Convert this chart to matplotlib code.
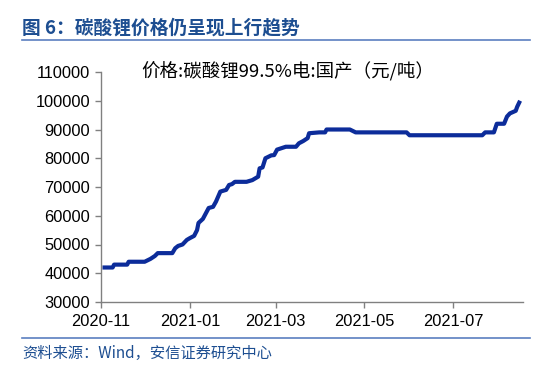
import pandas as pd
import matplotlib
matplotlib.use("Agg")
import matplotlib.pyplot as plt
import matplotlib.dates as mdates
from matplotlib.lines import Line2D

plt.rcParams["font.family"] = ["Liberation Sans", "Noto Sans CJK SC", "DejaVu Sans"]

# -------------- DATA --------------
dates = [
    "2020-11-02", "2020-11-09", "2020-11-10", "2020-11-19", "2020-11-20",
    "2020-12-01", "2020-12-03", "2020-12-05", "2020-12-08", "2020-12-10",
    "2020-12-20", "2020-12-22", "2020-12-24", "2020-12-27", "2020-12-30",
    "2021-01-01", "2021-01-04", "2021-01-06", "2021-01-07", "2021-01-10",
    "2021-01-14", "2021-01-17", "2021-01-19", "2021-01-22", "2021-01-26",
    "2021-01-28", "2021-01-30", "2021-02-01", "2021-02-09", "2021-02-13",
    "2021-02-17", "2021-02-18", "2021-02-20", "2021-02-22", "2021-02-26",
    "2021-02-28", "2021-03-02", "2021-03-05", "2021-03-08", "2021-03-15",
    "2021-03-17", "2021-03-20", "2021-03-23", "2021-03-24", "2021-03-31",
    "2021-04-04", "2021-04-05", "2021-04-21", "2021-04-25", "2021-05-30",
    "2021-06-01", "2021-07-21", "2021-07-23", "2021-07-29", "2021-07-31",
    "2021-08-05", "2021-08-07", "2021-08-09", "2021-08-13", "2021-08-14",
    "2021-08-16",
]
prices = [
    42000, 42000, 43000, 43000, 44000,
    44000, 44500, 45000, 46000, 47000,
    47000, 48700, 49500, 50000, 51600,
    52200, 53000, 55000, 57500, 58900,
    62700, 63100, 64900, 68400, 69000,
    70700, 71000, 71800, 71800, 72400,
    73600, 76500, 76800, 80000, 81000,
    81100, 83000, 83500, 84000, 84000,
    85200, 86000, 87000, 88700, 89000,
    89000, 90000, 90000, 89000, 89000,
    88000, 88000, 89000, 89000, 92000,
    92000, 94500, 95600, 96500, 97900,
    100000,
]
tick_dates = ["2020-11-01", "2021-01-01", "2021-03-01", "2021-05-01", "2021-07-01"]
x_end = "2021-08-18"
y_ticks = list(range(30000, 110001, 10000))

title = "图 6：碳酸锂价格仍呈现上行趋势"
chart_title = "价格:碳酸锂99.5%电:国产（元/吨）"
source = "资料来源：Wind，安信证券研究中心"

line_color = "#0c2c9a"
blue = "#1d4e91"
rule_color = "#5b7fc0"
axis_gray = "#808080"

# ── Figure ──────────────────────────────────────────────────
fig = plt.figure(figsize=(5.5, 3.73), dpi=100)
ax = fig.add_axes([101 / 550, 1 - 302 / 373, 422 / 550, 230 / 373])

x = pd.to_datetime(dates)
ax.plot(x, prices, color=line_color, linewidth=3.0, solid_joinstyle="round",
        solid_capstyle="butt", clip_on=False)

ax.set_xlim(pd.Timestamp(tick_dates[0]), pd.Timestamp(x_end))
ax.set_ylim(30000, 110000)
ax.set_yticks(y_ticks)
ax.set_xticks(pd.to_datetime(tick_dates))
ax.xaxis.set_major_formatter(mdates.DateFormatter("%Y-%m"))

for s in ["top", "right"]:
    ax.spines[s].set_visible(False)
for s in ["left", "bottom"]:
    ax.spines[s].set_color(axis_gray)
    ax.spines[s].set_linewidth(1.0)
ax.tick_params(axis="both", direction="out", length=4, width=1.0,
               color=axis_gray, labelsize=11.8, labelcolor="black")
ax.tick_params(axis="y", pad=4)
ax.tick_params(axis="x", pad=5)

# chart caption sits a bit left of the axes centre
ax.text(0.443, 1.0, chart_title, transform=ax.transAxes, ha="center", va="center",
        fontsize=13.3, family=["Noto Sans CJK SC", "DejaVu Sans"])

# ── Header / footer ─────────────────────────────────────────
fig.text(22 / 550, 1 - 28 / 373, title, ha="left", va="center", fontsize=13.5,
         fontweight="bold", color=blue, family=["Noto Sans CJK SC", "DejaVu Sans"])
fig.add_artist(Line2D([22 / 550, 530 / 550], [1 - 40 / 373] * 2,
                      color=rule_color, linewidth=1.2))
fig.add_artist(Line2D([22 / 550, 530 / 550], [1 - 338 / 373] * 2,
                      color=rule_color, linewidth=1.2))
fig.text(22 / 550, 1 - 353 / 373, source, ha="left", va="center", fontsize=11,
         color=blue, family=["Noto Sans CJK SC", "DejaVu Sans"])

fig.savefig("out.png", dpi=100)
